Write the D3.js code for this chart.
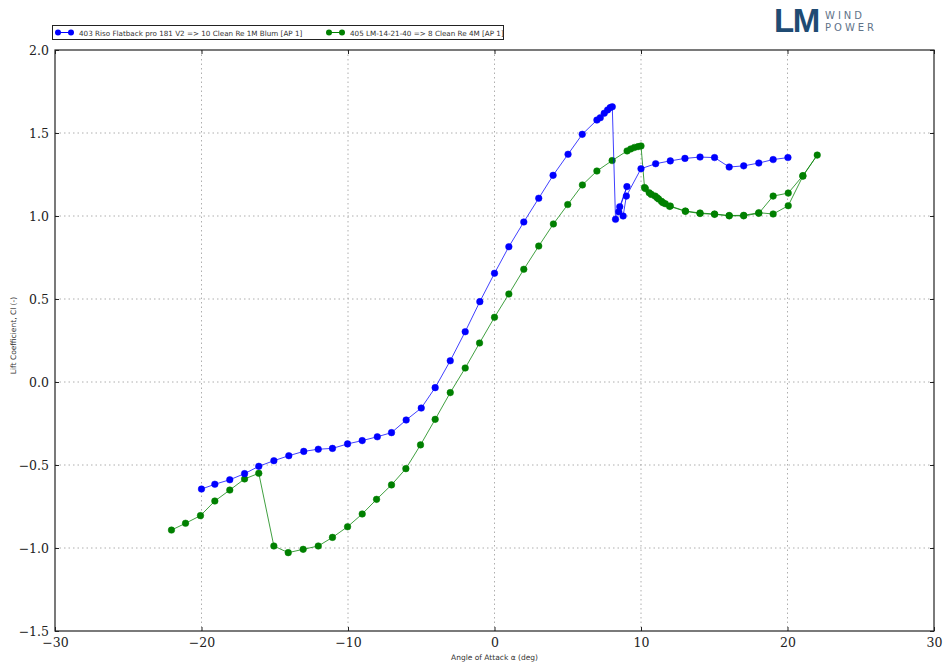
<!DOCTYPE html>
<html>
<head>
<meta charset="utf-8">
<script src="https://cdn.jsdelivr.net/npm/d3@7"></script>
<style>
  html, body { margin: 0; padding: 0; background: #fff; }
  svg { display: block; font-family: "DejaVu Sans", sans-serif; }
</style>
</head>
<body>
<svg id="chart" width="943" height="668"></svg>
<script>
// Angle of attack (deg) and lift coefficient for each polar, in measured order
const blueAlpha = [-20, -19.09, -18.07, -17.06, -16.09, -15.06, -14.04, -13.02, -12.03, -11.06,
  -10.03, -9.03, -8.0, -7.03, -6.03, -5.0, -4.05, -3.02, -2.0, -1.0, 0, 0.98, 2.0, 3.02, 4.0,
  5.02, 5.99, 6.99, 7.22, 7.49, 7.72, 7.9, 8.04, 8.26, 8.55, 9.04, 8.48, 8.78, 9.0, 10.0, 11.0,
  12.0, 13.0, 14.03, 15.02, 16.02, 17.01, 18.04, 19.02, 20.03];
const blueCl = [-0.645, -0.616, -0.589, -0.552, -0.508, -0.474, -0.444, -0.418, -0.405, -0.40,
  -0.373, -0.353, -0.33, -0.305, -0.229, -0.157, -0.034, 0.128, 0.303, 0.484, 0.655, 0.815, 0.964,
  1.107, 1.245, 1.372, 1.492, 1.578, 1.592, 1.619, 1.639, 1.653, 1.658, 0.98, 1.056, 1.177, 1.026,
  1.0, 1.12, 1.285, 1.315, 1.332, 1.347, 1.355, 1.352, 1.295, 1.302, 1.319, 1.34, 1.352];

const greenAlpha = [-22.05, -21.09, -20.07, -19.09, -18.07, -17.06, -16.09, -15.06, -14.08, -13.06,
  -12.03, -11.06, -10.03, -9.03, -8.05, -7.03, -6.05, -5.05, -4.05, -3.02, -2.0, -1.02, 0, 0.98,
  2.0, 3.02, 4.02, 5.0, 6.0, 6.99, 8.03, 9.05, 9.3, 9.55, 9.8, 10.0, 10.24, 10.56, 10.96, 11.2,
  11.4, 11.66, 11.95, 13.03, 14.03, 15.02, 16.02, 17.01, 18.04, 19.02, 20.05, 21.05, 22.03,
  21.05, 20.05, 19.02, 18.04, 17.01, 16.02, 15.02, 14.03, 13.03, 12.0, 11.5, 11.1, 10.7, 10.3];
const greenCl = [-0.892, -0.851, -0.805, -0.717, -0.651, -0.584, -0.55, -0.988, -1.028, -1.008,
  -0.988, -0.936, -0.872, -0.795, -0.707, -0.62, -0.522, -0.379, -0.225, -0.064, 0.084, 0.235, 0.39,
  0.53, 0.679, 0.819, 0.952, 1.069, 1.187, 1.271, 1.334, 1.392, 1.404, 1.413, 1.418, 1.422, 1.172,
  1.14, 1.12, 1.102, 1.088, 1.074, 1.058, 1.028, 1.015, 1.01, 1.001, 1.001, 1.016, 1.12, 1.138,
  1.243, 1.367, 1.24, 1.062, 1.012, 1.02, 1.004, 1.003, 1.012, 1.018, 1.03, 1.06, 1.08, 1.11, 1.13, 1.165];

const seriesNames = ["403 Riso Flatback pro 181 V2  => 10 Clean Re 1M Blum [AP 1]",
                     "405 LM-14-21-40  => 8 Clean Re 4M [AP 1]"];
const seriesColors = ["#0000ff", "#008000"];

const xTicks = [-30, -20, -10, 0, 10, 20, 30];
const yTicks = [-1.5, -1.0, -0.5, 0.0, 0.5, 1.0, 1.5, 2.0];

const svg = d3.select("#chart");
const plotLeft = 55, plotRight = 934, plotTop = 50, plotBottom = 631;

const x = d3.scaleLinear().domain([-30, 30]).range([plotLeft, plotRight]);
const y = d3.scaleLinear().domain([-1.5, 2.0]).range([plotBottom, plotTop]);

const minus = s => s.replace("-", "\u2212");

// grid
const grid = svg.append("g");
grid.selectAll(".gx").data(xTicks.slice(1, -1)).join("line")
  .attr("x1", d => x(d)).attr("x2", d => x(d)).attr("y1", plotTop).attr("y2", plotBottom)
  .attr("stroke", "#9a9a9a").attr("stroke-width", 0.8).attr("stroke-dasharray", "1.5,3");
grid.selectAll(".gy").data(yTicks.slice(1, -1)).join("line")
  .attr("y1", d => y(d)).attr("y2", d => y(d)).attr("x1", plotLeft).attr("x2", plotRight)
  .attr("stroke", "#9a9a9a").attr("stroke-width", 0.8).attr("stroke-dasharray", "1.5,3");

// axes (ticks point inward, matplotlib classic style)
const xAxis = svg.append("g").attr("transform", `translate(0,${plotBottom})`)
  .call(d3.axisBottom(x).tickValues(xTicks).tickSizeInner(-4).tickSizeOuter(0)
    .tickPadding(7).tickFormat(d => minus(d3.format("d")(d))));
const xAxisTop = svg.append("g").attr("transform", `translate(0,${plotTop})`)
  .call(d3.axisTop(x).tickValues(xTicks).tickSizeInner(-4).tickSizeOuter(0).tickFormat(""));
const yAxis = svg.append("g").attr("transform", `translate(${plotLeft},0)`)
  .call(d3.axisLeft(y).tickValues(yTicks).tickSizeInner(-4).tickSizeOuter(0)
    .tickPadding(6).tickFormat(d => minus(d3.format(".1f")(d))));
const yAxisRight = svg.append("g").attr("transform", `translate(${plotRight},0)`)
  .call(d3.axisRight(y).tickValues(yTicks).tickSizeInner(-4).tickSizeOuter(0).tickFormat(""));

[xAxis, xAxisTop, yAxis, yAxisRight].forEach(g => {
  g.select(".domain").remove();
  g.selectAll(".tick line").attr("stroke", "#222");
  g.selectAll(".tick text").attr("fill", "#222").attr("font-size", 12.5)
    .attr("font-family", "'DejaVu Serif', serif");
});

svg.append("rect").attr("x", plotLeft).attr("y", plotTop)
  .attr("width", plotRight - plotLeft).attr("height", plotBottom - plotTop)
  .attr("fill", "none").attr("stroke", "#222").attr("stroke-width", 1.2);

// series
const line = d3.line().x(d => x(d[0])).y(d => y(d[1]));
const series = [
  blueAlpha.map((a, i) => [a, blueCl[i]]),
  greenAlpha.map((a, i) => [a, greenCl[i]])
];
series.slice().reverse().forEach((pts, ri) => {
  const i = series.length - 1 - ri;
  const g = svg.append("g");
  g.append("path").datum(pts).attr("d", line)
    .attr("fill", "none").attr("stroke", seriesColors[i]).attr("stroke-width", 1).attr("opacity", 0.75);
  g.selectAll("circle").data(pts).join("circle")
    .attr("cx", d => x(d[0])).attr("cy", d => y(d[1])).attr("r", 3.3)
    .attr("fill", seriesColors[i]).attr("stroke", seriesColors[i]).attr("stroke-width", 0.5);
});

// axis labels
svg.append("text").attr("x", (plotLeft + plotRight) / 2).attr("y", 660)
  .attr("text-anchor", "middle").attr("font-size", 7.5).attr("fill", "#333")
  .text("Angle of Attack \u03b1 (deg)");
svg.append("text").attr("transform", `translate(16,${(plotTop + plotBottom) / 2 - 5}) rotate(-90)`)
  .attr("text-anchor", "middle").attr("font-size", 7.5).attr("fill", "#333")
  .text("Lift Coefficient, Cl (-)");

// legend
const leg = svg.append("g");
leg.append("rect").attr("x", 52.5).attr("y", 25.5).attr("width", 451).attr("height", 14)
  .attr("fill", "#fff").attr("stroke", "#222").attr("stroke-width", 1);
const legX = [56, 327];
seriesNames.forEach((name, i) => {
  const gx = legX[i];
  leg.append("line").attr("x1", gx + 2).attr("x2", gx + 15).attr("y1", 32.5).attr("y2", 32.5)
    .attr("stroke", seriesColors[i]).attr("stroke-width", 1);
  [gx + 2, gx + 15].forEach(cx => leg.append("circle").attr("cx", cx).attr("cy", 32.5).attr("r", 3)
    .attr("fill", seriesColors[i]));
  leg.append("text").attr("x", gx + 23).attr("y", 35.5).attr("font-size", 7.2)
    .attr("fill", "#333").text(name);
});

// logo
const logo = svg.append("g");
logo.append("text").attr("x", 774).attr("y", 32).attr("font-size", 33).attr("font-weight", "bold")
  .attr("font-family", "'Liberation Sans', Arial, sans-serif").attr("letter-spacing", -1.5)
  .attr("fill", "#1f4b73").text("LM");
logo.append("text").attr("x", 825).attr("y", 19).attr("font-size", 10)
  .attr("font-family", "'DejaVu Sans', sans-serif").attr("fill", "#5f7389").attr("letter-spacing", 3)
  .text("WIND");
logo.append("text").attr("x", 825).attr("y", 31).attr("font-size", 10)
  .attr("font-family", "'DejaVu Sans', sans-serif").attr("fill", "#5f7389").attr("letter-spacing", 3)
  .text("POWER");
</script>
</body>
</html>
